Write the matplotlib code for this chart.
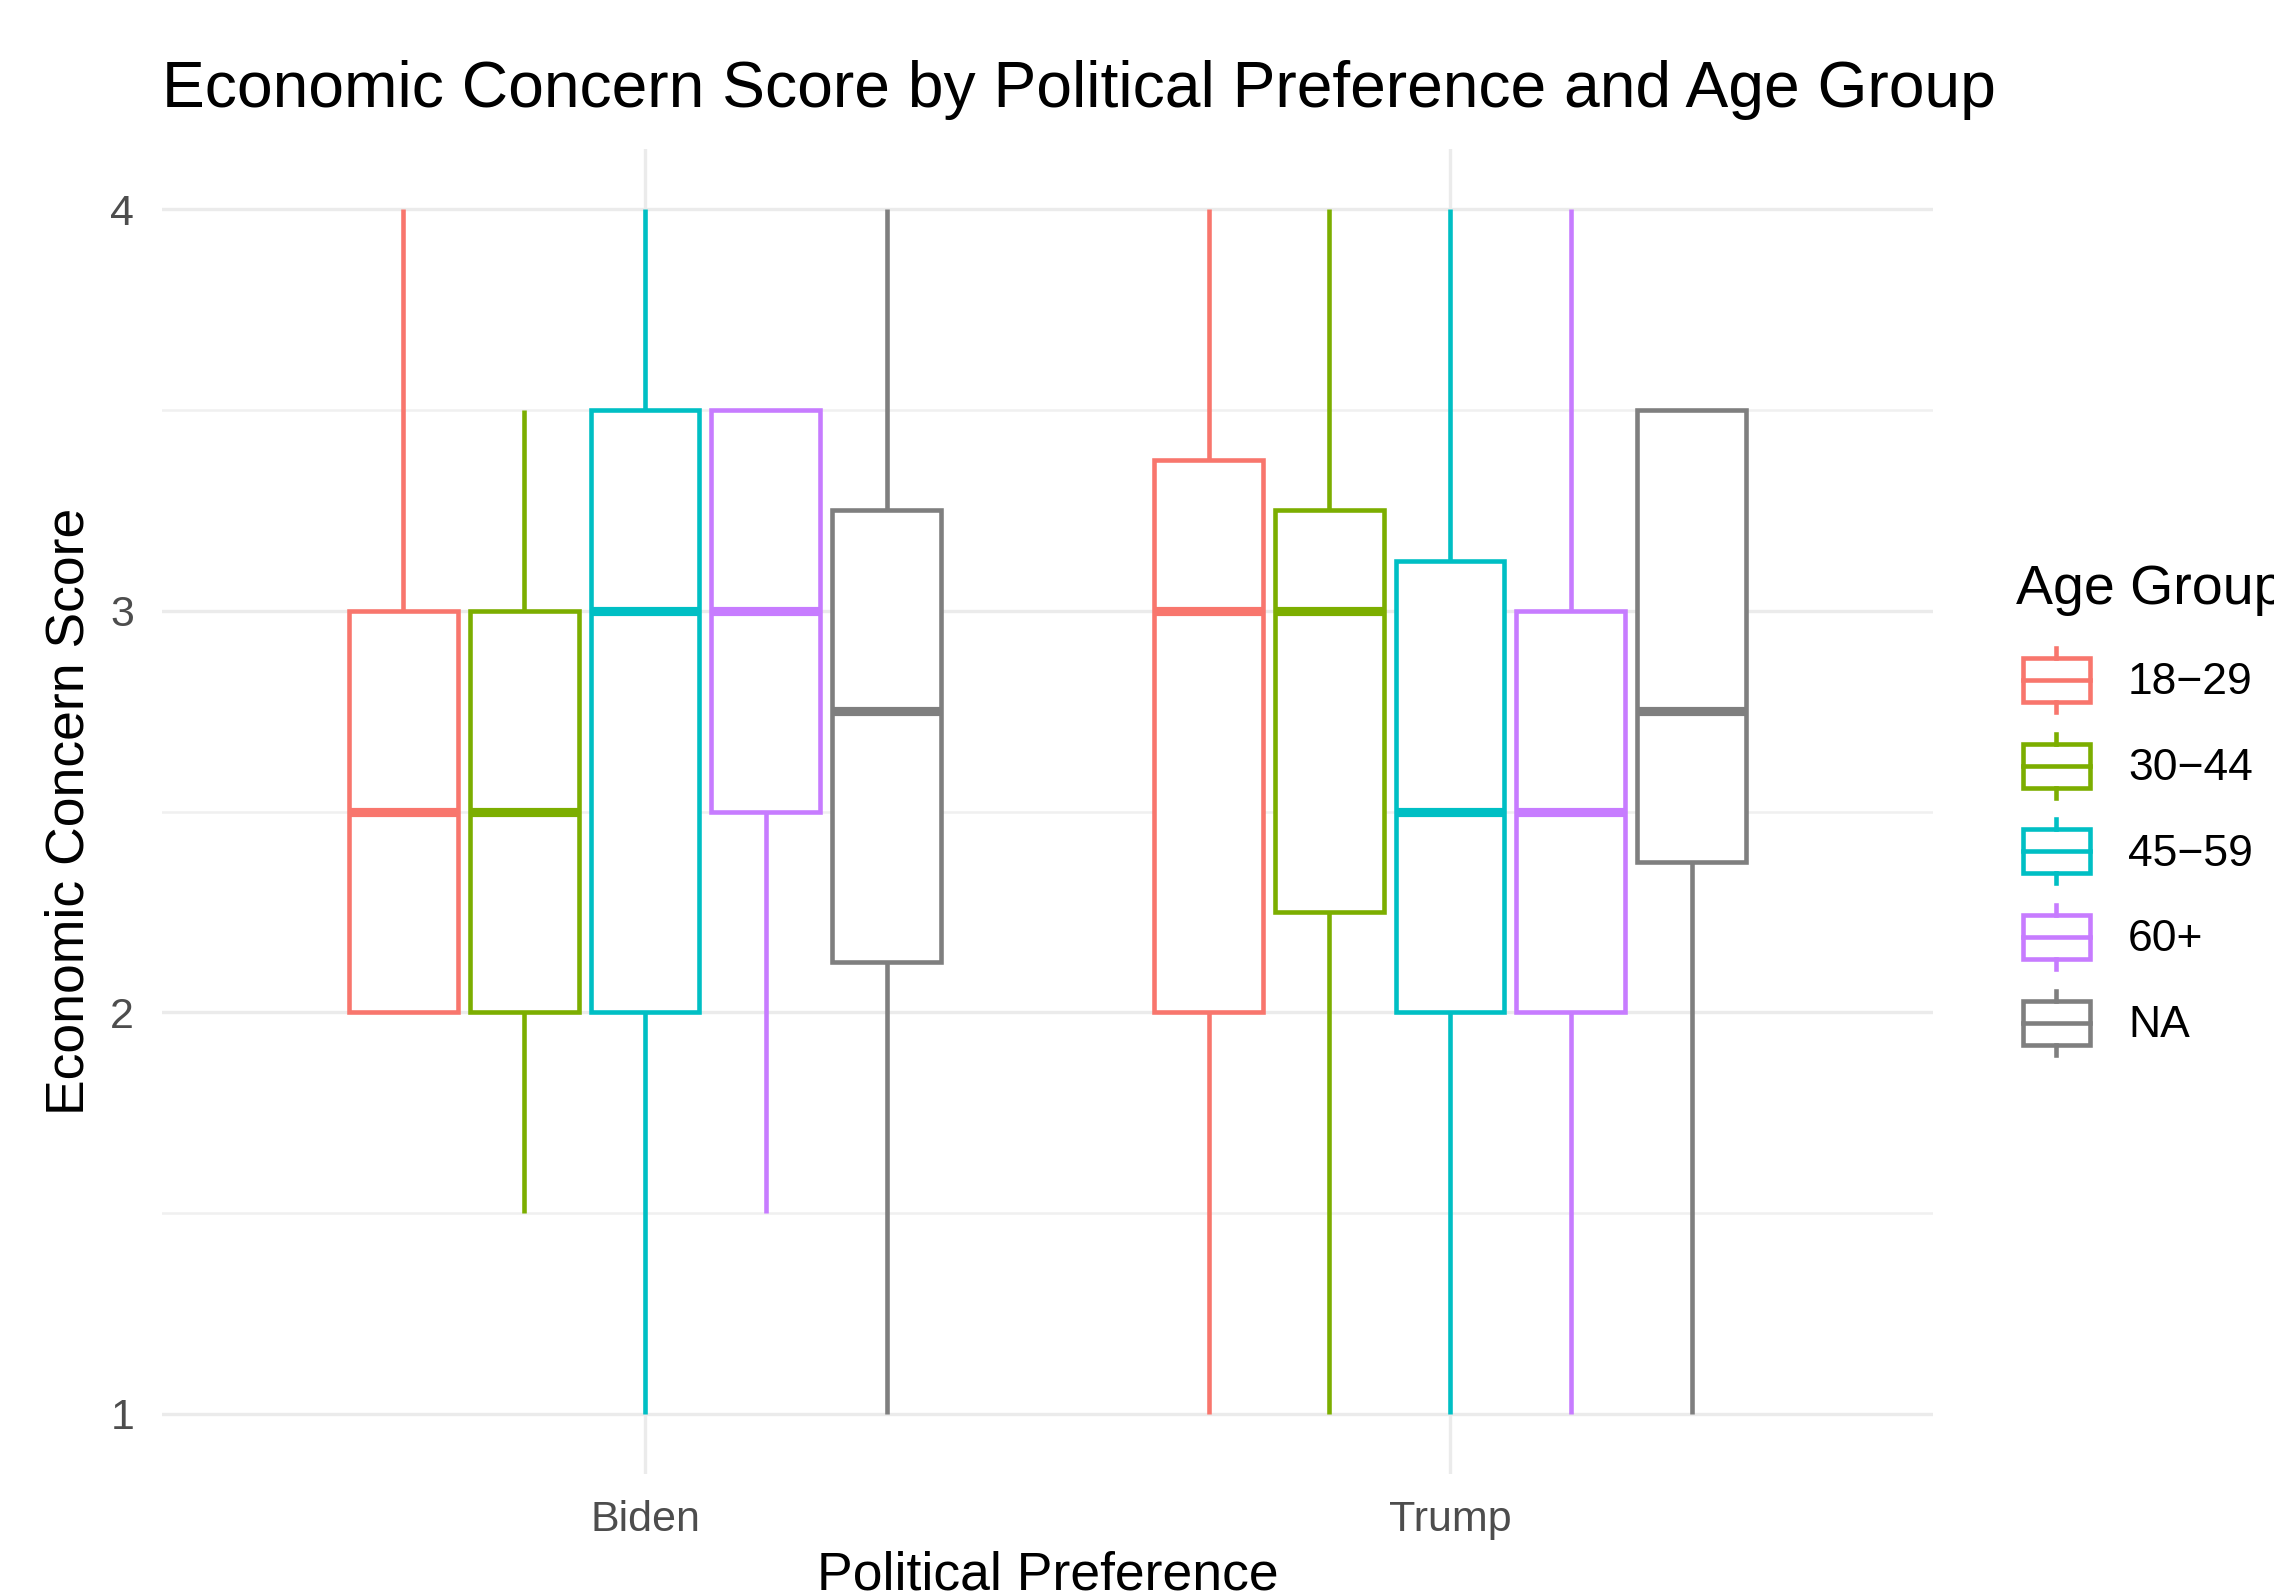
import matplotlib
matplotlib.use("Agg")
import matplotlib.pyplot as plt
from matplotlib.legend_handler import HandlerBase
from matplotlib.patches import Rectangle
from matplotlib.lines import Line2D

plt.rcParams['font.family'] = ['Liberation Sans', 'DejaVu Sans']

prefs = ['Biden', 'Trump']
groups = ['18\u221229', '30\u221244', '45\u221259', '60+', 'NA']
colors = ['#F8766D', '#7CAE00', '#00BFC4', '#C77CFF', '#7F7F7F']

# box statistics per age group
biden_lo = [2, 1.5, 1, 1.5, 1]
biden_q1 = [2, 2, 2, 2.5, 2.125]
biden_med = [2.5, 2.5, 3, 3, 2.75]
biden_q3 = [3, 3, 3.5, 3.5, 3.25]
biden_hi = [4, 3.5, 4, 3.5, 4]

trump_lo = [1, 1, 1, 1, 1]
trump_q1 = [2, 2.25, 2, 2, 2.375]
trump_med = [3, 3, 2.5, 2.5, 2.75]
trump_q3 = [3.375, 3.25, 3.125, 3, 3.5]
trump_hi = [4, 4, 4, 4, 3.5]

stats = {
    'Biden': (biden_lo, biden_q1, biden_med, biden_q3, biden_hi),
    'Trump': (trump_lo, trump_q1, trump_med, trump_q3, trump_hi),
}

W, H = 2274, 1596
fig = plt.figure(figsize=(W / 100, H / 100), dpi=100)
fig.patch.set_facecolor('white')
ax = fig.add_axes([162 / W, 1 - 1474 / H, 1771 / W, 1325 / H])

ax.set_xlim(0.4, 2.6)
ax.set_ylim(0.85, 4.15)

# grid like theme_minimal
for y in [1, 2, 3, 4]:
    ax.axhline(y, color='#EBEBEB', lw=2.4, zorder=0)
for y in [1.5, 2.5, 3.5]:
    ax.axhline(y, color='#F0F0F0', lw=1.8, zorder=0)
for x in [1, 2]:
    ax.axvline(x, color='#EBEBEB', lw=2.4, zorder=0)

dodge = 0.15
lw = 3.3
for pi, p in enumerate(prefs):
    lo, q1, med, q3, hi = stats[p]
    for gi, g in enumerate(groups):
        pos = pi + 1 + (gi - 2) * dodge
        c = colors[gi]
        st = [dict(med=med[gi], q1=q1[gi], q3=q3[gi], whislo=lo[gi], whishi=hi[gi], fliers=[])]
        ax.bxp(st, positions=[pos], widths=0.135, showfliers=False, showcaps=False,
               manage_ticks=False, patch_artist=True,
               boxprops=dict(facecolor='white', edgecolor=c, linewidth=lw),
               whiskerprops=dict(color=c, linewidth=lw, solid_capstyle='butt'),
               medianprops=dict(color=c, linewidth=lw * 2, solid_capstyle='butt'))

ax.set_xticks([1, 2])
ax.set_xticklabels(prefs)
ax.set_yticks([1, 2, 3, 4])
ax.set_yticklabels(['1', '2', '3', '4'])
ax.tick_params(length=0, labelsize=31, labelcolor='#4D4D4D')
ax.tick_params(axis='x', pad=19)
ax.tick_params(axis='y', pad=20)
for s in ax.spines.values():
    s.set_visible(False)

ax.set_xlabel('Political Preference', fontsize=38.5, va='baseline')
ax.xaxis.set_label_coords(0.5, -(1589 - 1474) / 1325)
ax.set_ylabel('Economic Concern Score', fontsize=38.5, va='center')
ax.yaxis.set_label_coords((70 - 162) / 1771, 0.5)

fig.text(162 / W, 1 - 90 / H, 'Economic Concern Score by Political Preference and Age Group',
         fontsize=46.2, ha='left', va='center')


class BoxKey(HandlerBase):
    def create_artists(self, legend, orig_handle, xdescent, ydescent, width, height, fontsize, trans):
        c = orig_handle.get_edgecolor()
        x0, y0 = -xdescent, -ydescent
        inset = width * 0.085
        bh = height * 0.69
        yb = y0 + (height - bh) / 2
        xm = x0 + width / 2
        arts = [
            Rectangle((x0 + inset, yb), width - 2 * inset, bh, fill=False, edgecolor=c, lw=lw),
            Line2D([x0 + inset, x0 + width - inset], [y0 + height / 2] * 2, color=c, lw=lw),
            Line2D([xm, xm], [yb + bh, y0 + height], color=c, lw=lw),
            Line2D([xm, xm], [y0, yb], color=c, lw=lw),
        ]
        for a in arts:
            a.set_transform(trans)
        return arts


handles = [Rectangle((0, 0), 1, 1, fill=False, edgecolor=c) for c in colors]
leg = fig.legend(handles, groups, handler_map={Rectangle: BoxKey()},
                 loc='upper left', bbox_to_anchor=(2016 / W, 1 - 564 / H),
                 frameon=False, fontsize=32, title='Age Group', title_fontsize=40,
                 alignment='left', handlelength=1.82, handleheight=1.835,
                 labelspacing=0.49, handletextpad=0.7, borderpad=0, borderaxespad=0)
# extra room between the legend title and the keys
leg._legend_box.sep = 23

fig.savefig('out.png', dpi=100)
